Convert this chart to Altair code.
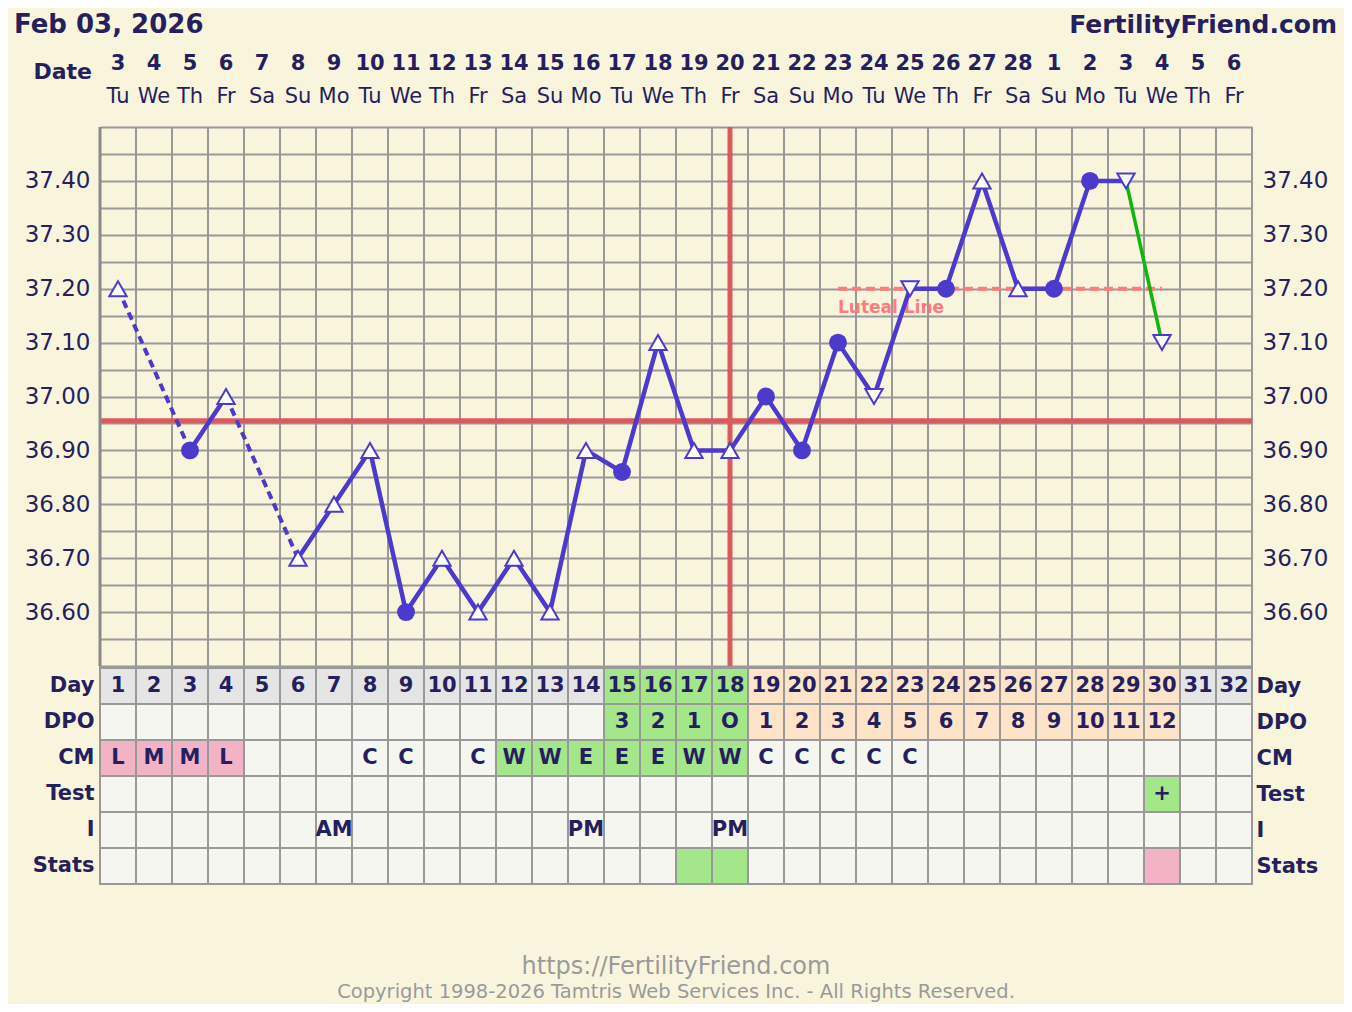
import altair as alt
import pandas as pd

# ---------------- data ----------------
days = list(range(1, 33))
dates = list(range(3, 29)) + list(range(1, 7))
dows = (["Tu", "We", "Th", "Fr", "Sa", "Su", "Mo"] * 5)[:32]

temps = [37.20, None, 36.90, 37.00, None, 36.70, 36.80, 36.90, 36.60, 36.70,
         36.60, 36.70, 36.60, 36.90, 36.86, 37.10, 36.90, 36.90, 37.00, 36.90,
         37.10, 37.00, 37.20, 37.20, 37.40, 37.20, 37.20, 37.40, 37.40, 37.10,
         None, None]
markers = ["up", None, "dot", "up", None, "up", "up", "up", "dot", "up",
           "up", "up", "up", "up", "dot", "up", "up", "up", "dot", "dot",
           "dot", "down", "down", "dot", "up", "up", "dot", "dot", "down", "down",
           None, None]

solid_segments = [[3, 4], list(range(6, 30))]
dashed_segments = [[1, 3], [4, 6]]
green_segments = [[29, 30]]

coverline = [36.955]
ovulation_day = [18]
luteal_days = [21, 30]
luteal_temp = [37.20]
temp_domain = [36.5, 37.5]

rows = ["Day", "DPO", "CM", "Test", "I", "Stats"]
day_kind = ["grey"] * 14 + ["green"] * 4 + ["peach"] * 12 + ["grey"] * 2
dpo_text = [""] * 14 + ["3", "2", "1", "O"] + [str(i) for i in range(1, 13)] + ["", ""]
dpo_kind = ["blank"] * 14 + ["green"] * 4 + ["peach"] * 12 + ["blank"] * 2
cm_text = ["L", "M", "M", "L", "", "", "", "C", "C", "", "C", "W", "W", "E", "E", "E",
           "W", "W", "C", "C", "C", "C", "C"] + [""] * 9
cm_kind = ["pink"] * 4 + ["blank"] * 7 + ["green"] * 7 + ["blank"] * 14
test_text = [""] * 29 + ["+"] + [""] * 2
test_kind = ["blank"] * 29 + ["green"] + ["blank"] * 2
i_text = [""] * 6 + ["AM"] + [""] * 6 + ["PM"] + [""] * 3 + ["PM"] + [""] * 14
i_kind = ["blank"] * 32
stats_text = [""] * 32
stats_kind = ["blank"] * 16 + ["green"] * 2 + ["blank"] * 11 + ["pink"] + ["blank"] * 2

header_left = ["Feb 03, 2026"]
header_right = ["FertilityFriend.com"]
footer_lines = ["https://FertilityFriend.com",
                "Copyright 1998-2026 Tamtris Web Services Inc. - All Rights Reserved."]

# ---------------- styles ----------------
BG = "#f9f5dd"
NAVY = "#251f5e"
GRIDC = "#999999"
BLUE = "#4b3acc"
GREEN_LINE = "#11b50c"
RED = "#d95b5e"
LUTEAL = "#ff7b7b"
BOLDF = "DejaVu Sans"
REGF = "DejaVu Sans"
kinds = ["grey", "green", "peach", "blank", "pink"]
kind_colors = ["#e5e5e6", "#a4e68a", "#fde3c8", "#f6f6f0", "#f3b3c6"]

# ---------------- tables ----------------
line_rows = []
for name, segs in (("solid", solid_segments), ("dashed", dashed_segments), ("green", green_segments)):
    for si, seg in enumerate(segs):
        for d in seg:
            line_rows.append({"style": name, "seg": f"{name}{si}", "day": d, "temp": temps[d - 1]})
lines_df = pd.DataFrame(line_rows)

pts_df = pd.DataFrame({"day": days, "temp": temps, "marker": markers}).dropna()

row_text = {"Day": [str(d) for d in days], "DPO": dpo_text, "CM": cm_text,
            "Test": test_text, "I": i_text, "Stats": stats_text}
row_kind = {"Day": day_kind, "DPO": dpo_kind, "CM": cm_kind,
            "Test": test_kind, "I": i_kind, "Stats": stats_kind}
cell_rows = []
for r in rows:
    for i, d in enumerate(days):
        cell_rows.append({"row": r, "day": d, "text": row_text[r][i], "kind": row_kind[r][i]})
cells_df = pd.DataFrame(cell_rows)

head_df = pd.DataFrame({"day": days, "date": [str(x) for x in dates], "dow": dows})
bound_df = pd.DataFrame({"day": days + [days[-1] + 1]})

# ---------------- scales ----------------
XS = alt.Scale(domain=[0.5, 32.5], nice=False, zero=False)
YT = alt.Scale(domain=temp_domain, range=[539, 0], nice=False, zero=False)
YR = alt.Scale(domain=rows, range=[541, 757], paddingInner=0, paddingOuter=0)

tick_vals = [round(36.5 + 0.05 * i, 2) for i in range(21)]
label_expr = ("(datum.value > 36.55 && datum.value < 37.45 && "
              "abs(datum.value*10 - round(datum.value*10)) < 0.001) ? format(datum.value, '.2f') : ''")

temp_axis_left = alt.Axis(orient="left", values=tick_vals, labelExpr=label_expr, grid=True,
                          gridColor=GRIDC, gridWidth=2, gridOpacity=1, ticks=False, domain=False,
                          title=None, labelFont=REGF, labelFontSize=23, labelColor=NAVY,
                          labelPadding=10, labelFlush=False, labelOverlap=False)
temp_axis_right = alt.Axis(orient="right", values=tick_vals, labelExpr=label_expr, grid=False,
                           ticks=False, domain=False, title=None, labelFont=REGF, labelFontSize=23,
                           labelColor=NAVY, labelPadding=10, labelFlush=False, labelOverlap=False)
row_axis_left = alt.Axis(orient="left", ticks=False, domain=False, title=None, labelFont=BOLDF,
                         labelFontWeight="bold", labelFontSize=21, labelColor=NAVY, labelPadding=6)
row_axis_right = alt.Axis(orient="right", ticks=False, domain=False, title=None, labelFont=BOLDF,
                          labelFontWeight="bold", labelFontSize=21, labelColor=NAVY, labelPadding=4)

# ---------------- layers ----------------
vgrid = alt.Chart(bound_df).transform_calculate(b="datum.day - 0.5").mark_rule(
    color=GRIDC, strokeWidth=2
).encode(x=alt.X("b:Q", scale=XS, axis=None))

edge = alt.Chart(pd.DataFrame({"day": [days[0]], "top": [temp_domain[1]], "bot": [temp_domain[0]]})).transform_calculate(
    b="datum.day - 0.5"
).mark_rule(color="#8a8a8a", strokeWidth=3).encode(
    x=alt.X("b:Q", scale=XS, axis=None),
    y=alt.Y("top:Q", scale=YT, axis=None),
    y2="bot:Q",
)

cells = alt.Chart(cells_df).transform_calculate(
    x0="datum.day - 0.5", x1="datum.day + 0.5"
).mark_rect(stroke=GRIDC, strokeWidth=2).encode(
    x=alt.X("x0:Q", scale=XS, axis=None),
    x2="x1:Q",
    y=alt.Y("row:N", scale=YR, axis=row_axis_left),
    fill=alt.Fill("kind:N", scale=alt.Scale(domain=kinds, range=kind_colors), legend=None),
)

cell_text = alt.Chart(cells_df).mark_text(
    font=BOLDF, fontWeight="bold", fontSize=21, color=NAVY, baseline="middle"
).encode(
    x=alt.X("day:Q", scale=XS, axis=None),
    y=alt.Y("row:N", scale=YR, axis=row_axis_right),
    text="text:N",
)

cover = alt.Chart(pd.DataFrame({"temp": coverline})).mark_rule(
    color=RED, strokeWidth=5
).encode(y=alt.Y("temp:Q", scale=YT, axis=temp_axis_left))

ovu = alt.Chart(pd.DataFrame({"day": ovulation_day, "top": [temp_domain[1]], "bot": [temp_domain[0]]})).mark_rule(
    color=RED, strokeWidth=5
).encode(
    x=alt.X("day:Q", scale=XS, axis=None),
    y=alt.Y("top:Q", scale=YT, axis=None),
    y2="bot:Q",
)

luteal_df = pd.DataFrame({"start": [luteal_days[0]], "end": [luteal_days[1]], "temp": luteal_temp,
                          "label": ["Luteal Line"]})
luteal = alt.Chart(luteal_df).mark_rule(color=LUTEAL, strokeWidth=4, strokeDash=[9, 5]).encode(
    x=alt.X("start:Q", scale=XS, axis=None),
    x2="end:Q",
    y=alt.Y("temp:Q", scale=YT, axis=None),
)
luteal_lbl = alt.Chart(luteal_df).mark_text(
    align="left", baseline="top", dy=11, font=BOLDF, fontWeight="bold", fontSize=17, color=LUTEAL
).encode(
    x=alt.X("start:Q", scale=XS, axis=None),
    y=alt.Y("temp:Q", scale=YT, axis=None),
    text="label:N",
)


def line_layer(style, color, width, dash=None):
    kw = dict(color=color, strokeWidth=width)
    if dash:
        kw["strokeDash"] = dash
    return alt.Chart(lines_df).transform_filter(f"datum.style == '{style}'").mark_line(**kw).encode(
        x=alt.X("day:Q", scale=XS, axis=None),
        y=alt.Y("temp:Q", scale=YT, axis=None),
        detail="seg:N",
    )


l_dashed = line_layer("dashed", BLUE, 4, [8, 5])
l_solid = line_layer("solid", BLUE, 4.5)
l_green = line_layer("green", GREEN_LINE, 3.5)

dots = alt.Chart(pts_df).transform_filter("datum.marker == 'dot'").mark_point(
    shape="circle", filled=True, size=320, color=BLUE, opacity=1
).encode(
    x=alt.X("day:Q", scale=XS, axis=None),
    y=alt.Y("temp:Q", scale=YT, axis=temp_axis_right),
)
tri_up = alt.Chart(pts_df).transform_filter("datum.marker == 'up'").mark_point(
    shape="triangle-up", filled=False, fill="#ffffff", fillOpacity=1, size=300, stroke=BLUE, strokeWidth=2, opacity=1
).encode(
    x=alt.X("day:Q", scale=XS, axis=None),
    y=alt.Y("temp:Q", scale=YT, axis=None),
)
tri_down = alt.Chart(pts_df).transform_filter("datum.marker == 'down'").mark_point(
    shape="triangle-down", filled=False, fill="#ffffff", fillOpacity=1, size=300, stroke=BLUE, strokeWidth=2, opacity=1
).encode(
    x=alt.X("day:Q", scale=XS, axis=None),
    y=alt.Y("temp:Q", scale=YT, axis=None),
)

# header / footer text
date_txt = alt.Chart(head_df).mark_text(
    font=BOLDF, fontWeight="bold", fontSize=21, color=NAVY, baseline="middle"
).encode(x=alt.X("day:Q", scale=XS, axis=None), y=alt.value(-63), text="date:N")
dow_txt = alt.Chart(head_df).mark_text(
    font=REGF, fontSize=21, color=NAVY, baseline="middle"
).encode(x=alt.X("day:Q", scale=XS, axis=None), y=alt.value(-30), text="dow:N")
date_lbl = alt.Chart(pd.DataFrame({"t": ["Date"]})).mark_text(
    font=BOLDF, fontWeight="bold", fontSize=22, color=NAVY, align="right", baseline="middle"
).encode(x=alt.value(-8), y=alt.value(-55), text="t:N")
title_l = alt.Chart(pd.DataFrame({"t": header_left})).mark_text(
    font=BOLDF, fontWeight="bold", fontSize=26, color=NAVY, align="left", baseline="alphabetic"
).encode(x=alt.value(-86), y=alt.value(-94), text="t:N")
title_r = alt.Chart(pd.DataFrame({"t": header_right})).mark_text(
    font=BOLDF, fontWeight="bold", fontSize=25, color=NAVY, align="right", baseline="alphabetic"
).encode(x=alt.value(1237), y=alt.value(-94), text="t:N")
foot1 = alt.Chart(pd.DataFrame({"t": footer_lines[:1]})).mark_text(
    font=REGF, fontSize=24, color="#9a9a9a", align="center", baseline="middle"
).encode(x=alt.value(576), y=alt.value(840), text="t:N")
foot2 = alt.Chart(pd.DataFrame({"t": footer_lines[1:]})).mark_text(
    font=REGF, fontSize=19.5, color="#9a9a9a", align="center", baseline="middle"
).encode(x=alt.value(576), y=alt.value(865), text="t:N")

chart = alt.layer(
    vgrid, cells, cell_text, cover, ovu, edge, luteal, luteal_lbl, l_dashed, l_solid, l_green,
    dots, tri_up, tri_down, date_txt, dow_txt, date_lbl, title_l, title_r, foot1, foot2,
).resolve_scale(y="independent").resolve_axis(y="independent").properties(
    width=1152, height=757,
    autosize=alt.AutoSizeParams(type="none"),
    padding={"left": 92, "top": 119, "right": 92, "bottom": 120},
    background=BG,
).configure_view(stroke=None)

chart.save("out.html", embed_options={"renderer": "svg", "actions": False})
